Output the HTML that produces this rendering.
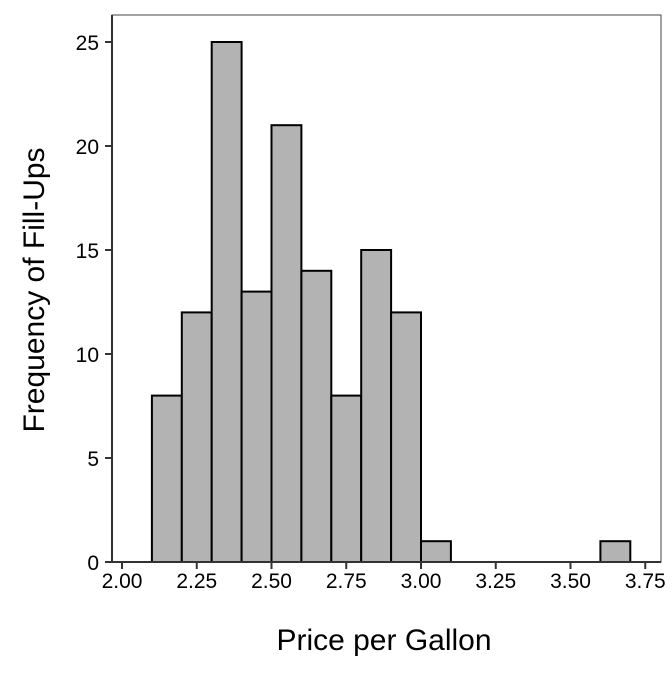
<!DOCTYPE html>
<html><head><meta charset="utf-8"><style>
body{margin:0;background:#fff}
svg{font-family:"Liberation Sans",Arial,sans-serif}
</style></head><body>
<svg id="chart" width="672" height="672">
<rect x="112" y="15" width="549" height="547" fill="none" stroke="#444" stroke-width="1"/>
<g id="bars"></g>
<g id="axes"></g>
<text x="384" y="650" font-size="30" text-anchor="middle">Price per Gallon</text>
<text transform="translate(44,290) rotate(-90)" font-size="30" text-anchor="middle">Frequency of Fill-Ups</text>
</svg>
<script>
const binStarts=[2.1,2.2,2.3,2.4,2.5,2.6,2.7,2.8,2.9,3.0,3.6];
const counts=[8,12,25,13,21,14,8,15,12,1,1];
const binWidth=0.1;
const xTicks=["2.00","2.25","2.50","2.75","3.00","3.25","3.50","3.75"];
const yTicks=[0,5,10,15,20,25];
const ns="http://www.w3.org/2000/svg";
function xs(v){return 122+(v-2)*299;}
function ys(v){return 562-v*20.8;}
const bars=document.getElementById('bars'),axes=document.getElementById('axes');
function mk(tag,attrs,parent){const e=document.createElementNS(ns,tag);for(const k in attrs)e.setAttribute(k,attrs[k]);parent.appendChild(e);return e;}
binStarts.forEach((b,i)=>{
 const r=mk('rect',{x:xs(b),y:ys(counts[i]),width:xs(b+binWidth)-xs(b),height:ys(0)-ys(counts[i]),fill:'#b3b3b3',stroke:'#000','stroke-width':2},bars);
 
 
});
const xl=mk('line',{x1:112,x2:661,y1:562,y2:562,stroke:'#333','stroke-width':2},axes);


const yl=mk('line',{x1:112,x2:112,y1:15,y2:562,stroke:'#333','stroke-width':2},axes);


xTicks.forEach(t=>{
 const x=xs(parseFloat(t));
 mk('line',{x1:x,x2:x,y1:562,y2:569,stroke:'#333','stroke-width':2},axes);
 const tx=mk('text',{x:x,y:588,'font-size':21,'text-anchor':'middle'},axes);
 tx.textContent=t;
 
 
});
yTicks.forEach(t=>{
 const y=ys(t);
 mk('line',{x1:105,x2:112,y1:y,y2:y,stroke:'#333','stroke-width':2},axes);
 const tx=mk('text',{x:99,y:y+8,'font-size':21,'text-anchor':'end'},axes);
 tx.textContent=t;
 
 
});
</script>
</body></html>
